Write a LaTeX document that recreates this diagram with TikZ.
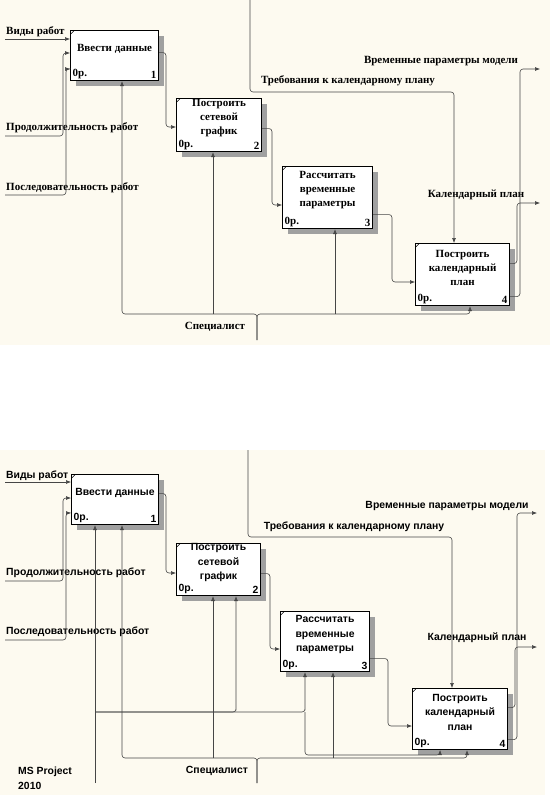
\documentclass[tikz,border=0pt]{standalone}
\usepackage{fontspec}
\setmainfont{Liberation Serif}
\newfontfamily\arialf{Liberation Sans}
\usetikzlibrary{arrows.meta}
\definecolor{cream}{RGB}{253,250,240}
\definecolor{linec}{RGB}{70,70,70}
\definecolor{shadowc}{RGB}{160,160,160}
\tikzset{
 conn/.style={draw=linec, line width=0.6pt, rounded corners=3pt},
 arr/.style={conn, -{Latex[length=5pt,width=4pt]}},
 boxst/.style={draw=black, line width=1.1pt, fill=white, inner sep=0pt, anchor=north west},
 fa/.style={font=\fontsize{11}{14}\selectfont\bfseries},
 fb/.style={font=\arialf\fontsize{10.4}{14.5}\selectfont\bfseries},
 lab/.style={inner sep=0pt},
}
\newcommand\idefbox[8]{%
 \fill[shadowc] (#2+6,#3+6) rectangle (#2+#4+6,#3+#5+6);
 \node[boxst, minimum width=#4pt, minimum height=#5pt] (#1) at (#2,#3) {};
 \draw[line width=0.5pt] (#2+0.8,#3+4) -- (#2+4,#3+0.8);
 \node[#8, align=center, inner sep=0pt] (#1t) at ([yshift=7pt]#1.center) {#6};
 \node[#8, anchor=south west, inner sep=2.5pt] (#1o) at (#1.south west) {0р.};
 \node[#8, anchor=south east, inner sep=2.5pt] (#1n) at (#1.south east) {#7};
}
\begin{document}
\begin{tikzpicture}[x=1pt,y=-1pt]
\useasboundingbox[fill=white] (0,0) rectangle (550,795);
% ================= diagram 1 =================
\fill[cream] (0,0) rectangle (550,345);
\idefbox{a1}{70}{30}{88}{50}{Ввести данные}{1}{fa}
\idefbox{a2}{176}{98}{85}{53}{Построить\\сетевой\\график}{2}{fa}
\idefbox{a3}{282}{166}{90}{62}{Рассчитать\\временные\\параметры}{3}{fa}
\idefbox{a4}{415}{243}{94}{62}{Построить\\календарный\\план}{4}{fa}
% labels
\node[fa, lab, anchor=west] (la1) at (6,32) {Виды работ};
\node[fa, lab, anchor=west] (la2) at (6,128) {Продолжительность работ};
\node[fa, lab, anchor=west] (la3) at (6,188) {Последовательность работ};
\node[fa, lab] (la4) at (348,81) {Требования к календарному плану};
\node[fa, lab] (la5) at (441,61) {Временные параметры модели};
\node[fa, lab] (la6) at (476,195) {Календарный план};
\node[fa, lab] (la7) at (215,327) {Специалист};
% inputs
\coordinate (A1) at (5,39);
\draw[arr] (A1) -- (A1 -| a1.west);
\coordinate (A2) at (5,136); \coordinate (A2b) at (63,53);
\draw[arr] (A2) -| (A2b) -- (A2b -| a1.west);
\coordinate (A3) at (5,195); \coordinate (A3b) at (66,69);
\draw[arr] (A3) -| (A3b) -- (A3b -| a1.west);
% box to box
\coordinate (c12) at (166,127);
\draw[arr] ([yshift=3pt]a1.east) -| (c12) -- (c12 -| a2.west);
\coordinate (c23) at (272,205);
\draw[arr] ([yshift=-3.5pt]a2.east) -| (c23) -- (c23 -| a3.west);
\coordinate (c34) at (392,282);
\draw[arr] ([yshift=-17pt]a3.east) -| (c34) -- (c34 -| a4.west);
% control
\coordinate (C0) at (250,0); \coordinate (C1) at (454,92);
\draw[arr] (C0) |- (C1) -- (C1 |- a4.north);
% outputs
\coordinate (O1b) at (520,69); \coordinate (O1) at (540,69);
\draw[arr] ([yshift=-22pt]a4.east) -| (O1b) -- (O1);
\coordinate (O2b) at (517,203); \coordinate (O2) at (540,203);
\draw[arr] ([yshift=11pt]a4.east) -| (O2b) -- (O2);
% mechanism
\coordinate (M0) at (257,340);
\coordinate (M1) at (122,314); \coordinate (M2) at (213,314);
\coordinate (M3) at (335,314); \coordinate (M4) at (470,314);
\draw[arr] (M0) |- (M1) -- (M1 |- a1.south);
\draw[arr] (M0) |- (M4) -- (M4 |- a4.south);
\draw[arr] (M2) -- (M2 |- a2.south);
\draw[arr] (M3) -- (M3 |- a3.south);
% ================= diagram 2 =================
\fill[cream] (0,450) rectangle (545,795);
\idefbox{b1}{71}{474}{87}{50}{Ввести данные}{1}{fb}
\idefbox{b2}{176}{543}{84}{52}{Построить\\сетевой\\график}{2}{fb}
\idefbox{b3}{280}{611}{89}{60}{Рассчитать\\временные\\параметры}{3}{fb}
\idefbox{b4}{412}{688}{95}{61}{Построить\\календарный\\план}{4}{fb}
% labels
\node[fb, lab, anchor=west] (lb1) at (6,476) {Виды работ};
\node[fb, lab, anchor=west] (lb2) at (6,573) {Продолжительность работ};
\node[fb, lab, anchor=west] (lb3) at (6,632) {Последовательность работ};
\node[fb, lab] (lb4) at (354,527) {Требования к календарному плану};
\node[fb, lab] (lb5) at (447,506) {Временные параметры модели};
\node[fb, lab] (lb6) at (477,638) {Календарный план};
\node[fb, lab] (lb7) at (217,771) {Специалист};
\node[fb, lab, anchor=north west, align=left] (lb8) at (18,767) {MS Project\\2010};
% inputs
\coordinate (B1) at (5,482);
\draw[arr] (B1) -- (B1 -| b1.west);
\coordinate (B2) at (5,581); \coordinate (B2b) at (63,498);
\draw[arr] (B2) -| (B2b) -- (B2b -| b1.west);
\coordinate (B3) at (5,640); \coordinate (B3b) at (66,513);
\draw[arr] (B3) -| (B3b) -- (B3b -| b1.west);
% box to box
\coordinate (d12) at (166,573);
\draw[arr] ([yshift=6pt]b1.east) -| (d12) -- (d12 -| b2.west);
\coordinate (d23) at (270,649);
\draw[arr] ([yshift=-4pt]b2.east) -| (d23) -- (d23 -| b3.west);
\coordinate (d34) at (388,726);
\draw[arr] ([yshift=-17pt]b3.east) -| (d34) -- (d34 -| b4.west);
% control
\coordinate (D0) at (248,450); \coordinate (D1) at (452,537);
\draw[arr] (D0) |- (D1) -- (D1 |- b4.north);
% outputs
\coordinate (P1b) at (517,513); \coordinate (P1) at (537,513);
\draw[arr] ([yshift=-20.5pt]b4.east) -| (P1b) -- (P1);
\coordinate (P2b) at (515,647); \coordinate (P2) at (537,647);
\draw[arr] ([yshift=11.5pt]b4.east) -| (P2b) -- (P2);
% mechanism: MS Project
\coordinate (N0) at (95,783);
\coordinate (N1) at (95,712); \coordinate (N2) at (236,712);
\coordinate (N3) at (305,712); \coordinate (N4) at (440,755);
\draw[arr] (N0) -- (N0 |- b1.south);
\draw[arr] (N1) -| (N2) -- (N2 |- b2.south);
\draw[arr] (N1) -| (N3) -- (N3 |- b3.south);
\draw[arr] (N3) |- (N4) -- (N4 |- b4.south);
% mechanism: Специалист
\coordinate (S0) at (257,783);
\coordinate (S1) at (122,758); \coordinate (S2) at (213,758);
\coordinate (S3) at (333,758); \coordinate (S4) at (467,758);
\draw[arr] (S0) |- (S1) -- (S1 |- b1.south);
\draw[arr] (S0) |- (S4) -- (S4 |- b4.south);
\draw[arr] (S2) -- (S2 |- b2.south);
\draw[arr] (S3) -- (S3 |- b3.south);
\end{tikzpicture}
\end{document}
